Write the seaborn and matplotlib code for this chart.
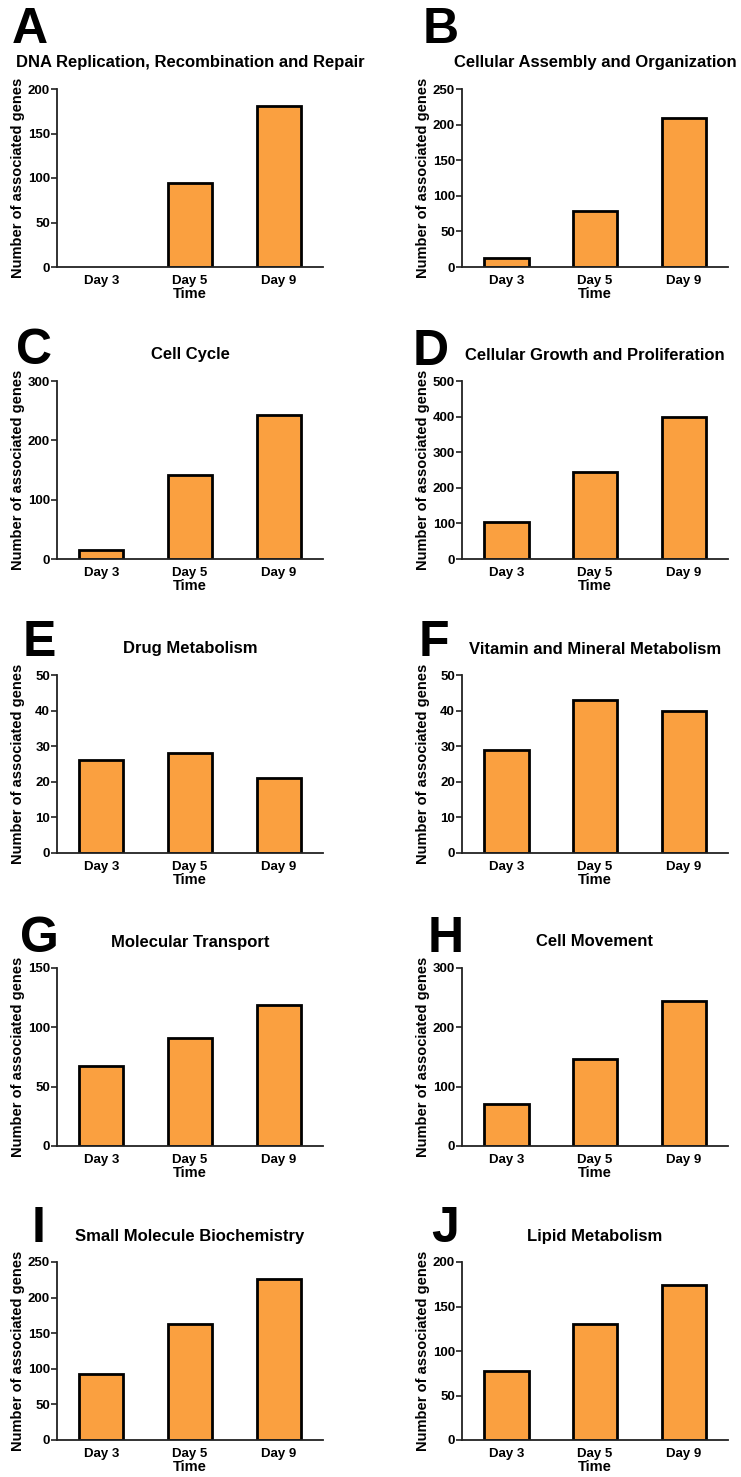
import matplotlib
matplotlib.use("Agg")
import matplotlib.pyplot as plt
import seaborn as sns
import pandas as pd
import numpy as np

# ---- data ----
days = ["Day 3", "Day 5", "Day 9"]
panel_letters = ["A", "B", "C", "D", "E", "F", "G", "H", "I", "J"]
titles = [
    "DNA Replication, Recombination and Repair",
    "Cellular Assembly and Organization",
    "Cell Cycle",
    "Cellular Growth and Proliferation",
    "Drug Metabolism",
    "Vitamin and Mineral Metabolism",
    "Molecular Transport",
    "Cell Movement",
    "Small Molecule Biochemistry",
    "Lipid Metabolism",
]
dna_repair = [0, 94, 181]
cell_assembly = [13, 78, 209]
cell_cycle = [15, 142, 243]
cell_growth = [103, 243, 400]
drug_metab = [26, 28, 21]
vitamin_metab = [29, 43, 40]
mol_transport = [67, 91, 119]
cell_movement = [71, 146, 244]
small_mol = [93, 163, 226]
lipid_metab = [78, 130, 174]
values = [dna_repair, cell_assembly, cell_cycle, cell_growth, drug_metab,
          vitamin_metab, mol_transport, cell_movement, small_mol, lipid_metab]
y_max = [200, 250, 300, 500, 50, 50, 150, 300, 250, 200]
y_step = [50, 50, 100, 100, 10, 10, 50, 100, 50, 50]

# ---- style ----
sns.set_style("ticks")
plt.rcParams["font.family"] = ["Liberation Sans", "DejaVu Sans"]
plt.rcParams["font.weight"] = "bold"
plt.rcParams["text.color"] = "black"
plt.rcParams["axes.labelcolor"] = "black"
plt.rcParams["xtick.color"] = "black"
plt.rcParams["ytick.color"] = "black"

W, H = 741, 1477
fig = plt.figure(figsize=(W / 100, H / 100), dpi=100)

col_left = [57, 462]
row_top = [89, 381, 675, 968, 1262]
ax_w, ax_h = 266, 178
letter_pos = [(12, 43), (423, 43), (16, 364), (413, 365), (23, 656),
              (419, 656), (20, 952), (428, 952), (32, 1242), (431, 1242)]

bar_color = "#FAA040"

for i in range(10):
    r, c = divmod(i, 2)
    left = col_left[c] / W
    bottom = 1 - (row_top[r] + ax_h) / H
    ax = fig.add_axes([left, bottom, ax_w / W, ax_h / H])
    df = pd.DataFrame({"Time": days, "genes": values[i]})
    sns.barplot(data=df, x="Time", y="genes", ax=ax, color=bar_color,
                saturation=1, width=0.5, edgecolor="black", linewidth=2.0)
    for p in ax.patches:
        if p.get_height() == 0:
            p.set_linewidth(0)
    ax.set_xlim(-0.5, 2.5)
    ax.set_ylim(0, y_max[i])
    ax.set_yticks(np.arange(0, y_max[i] + 1, y_step[i]))
    sns.despine(ax=ax)
    for s in ["left", "bottom"]:
        ax.spines[s].set_linewidth(1.3)
        ax.spines[s].set_color("#222222")
    ax.tick_params(axis="y", length=4, width=1.2, color="#222222", pad=1,
                   labelsize=9.5, labelcolor="black")
    ax.tick_params(axis="x", length=0, pad=6, labelsize=9.5, labelcolor="black")
    for lab in ax.get_xticklabels() + ax.get_yticklabels():
        lab.set_fontweight("bold")
    ax.set_xlabel("Time", fontsize=10.5, fontweight="bold", labelpad=0,
                  color="black")
    ax.set_ylabel("Number of associated genes", fontsize=10.5,
                  fontweight="bold", color="black")
    ax.yaxis.set_label_coords(-32 / ax_w, 0.5)
    ax.text(0.5, 1 + 26 / ax_h, titles[i], transform=ax.transAxes,
            ha="center", va="center", fontsize=12, fontweight="bold",
            color="black")
    lx, ly = letter_pos[i]
    fig.text(lx / W, 1 - ly / H, panel_letters[i], ha="left", va="baseline",
             fontsize=36, fontweight="bold", color="black")

fig.savefig("out.png", dpi=100, facecolor="white")
